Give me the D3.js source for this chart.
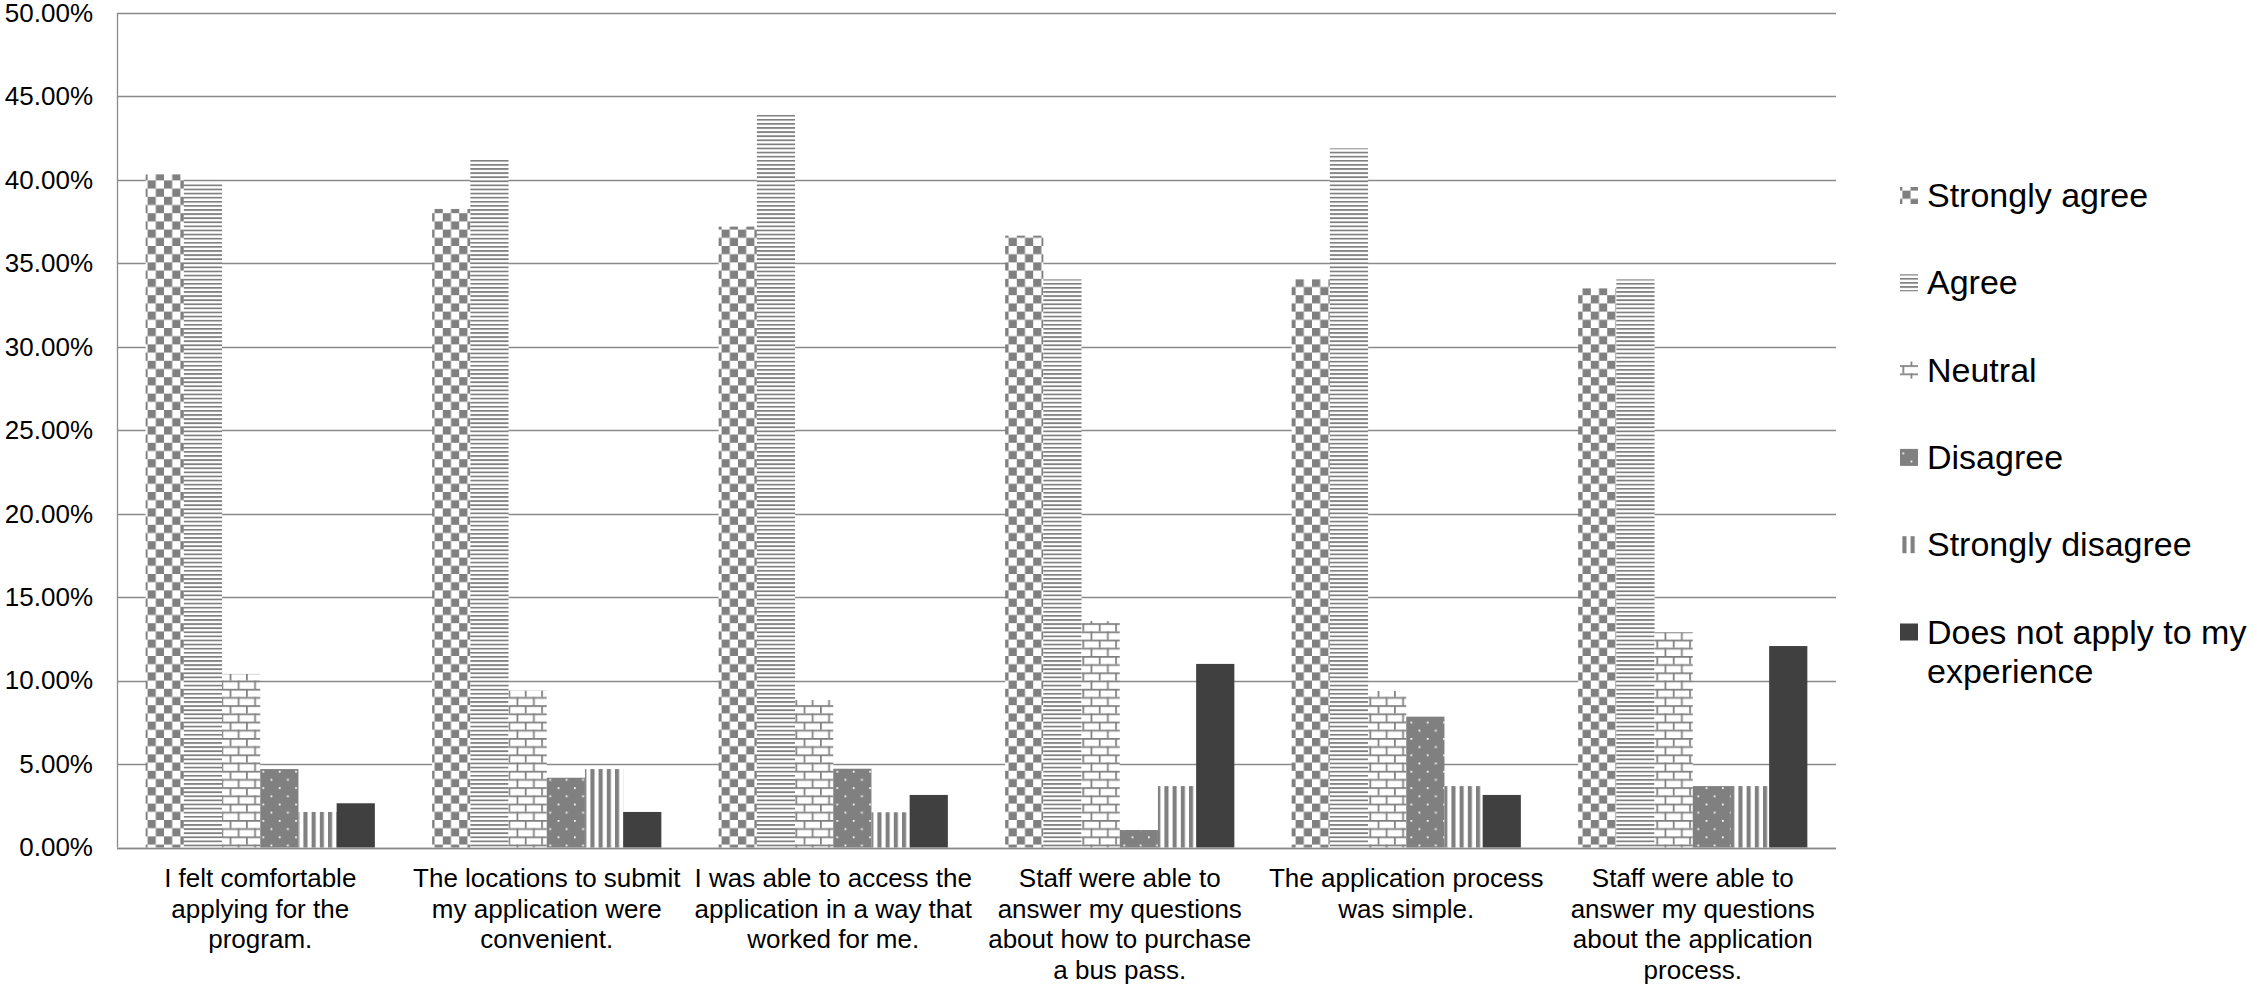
<!DOCTYPE html>
<html>
<head>
<meta charset="utf-8">
<script src="https://cdn.jsdelivr.net/npm/d3@7"></script>
<style>
  html, body { margin: 0; padding: 0; background: #fff; }
  svg { display: block; }
  text { font-family: "Liberation Sans", Arial, sans-serif; fill: #000; }
</style>
</head>
<body>
<svg id="chart" width="2254" height="986"></svg>
<script>
// ---------- data ----------
const categories = ["cat1", "cat2", "cat3", "cat4", "cat5", "cat6"];
const categoryLabelLines = [
  ["I felt comfortable", "applying for the", "program."],
  ["The locations to submit", "my application were", "convenient."],
  ["I was able to access the", "application in a way that", "worked for me."],
  ["Staff were able to", "answer my questions", "about how to purchase", "a bus pass."],
  ["The application process", "was simple."],
  ["Staff were able to", "answer my questions", "about the application", "process."]
];
const seriesNames = ["Strongly agree", "Agree", "Neutral", "Disagree", "Strongly disagree", "Does not apply to my experience"];
const legendLines = [["Strongly agree"], ["Agree"], ["Neutral"], ["Disagree"], ["Strongly disagree"], ["Does not apply to my", "experience"]];
const stronglyAgree    = [40.33, 38.26, 37.20, 36.66, 34.04, 33.50];
const agree            = [39.83, 41.25, 43.89, 34.04, 41.89, 34.04];
const neutral          = [10.40,  9.40,  8.84, 13.57,  9.38, 12.90];
const disagree         = [ 4.70,  4.18,  4.72,  1.05,  7.84,  3.68];
const stronglyDisagree = [ 2.13,  4.70,  2.11,  3.68,  3.68,  3.68];
const doesNotApply     = [ 2.65,  2.13,  3.15, 11.00,  3.15, 12.07];
const yTicks = [0, 5, 10, 15, 20, 25, 30, 35, 40, 45, 50];

const seriesValues = [stronglyAgree, agree, neutral, disagree, stronglyDisagree, doesNotApply];

// ---------- layout ----------
const svg = d3.select("#chart");
const plot = { left: 117, right: 1836, top: 13, bottom: 847.5 };
const gridColor = "#8a8a8a";
const fg = "#808080";

const x = d3.scaleBand().domain(categories).range([plot.left, plot.right]).paddingInner(0).paddingOuter(0);
const xs = d3.scaleBand().domain(seriesNames).range([0, x.bandwidth()]).paddingInner(0).paddingOuter(0.75);
const y = d3.scaleLinear().domain([0, 50]).range([plot.bottom, plot.top]);

// ---------- patterns ----------
const u = 2.05;
const defs = svg.append("defs");
function pat(id, w, h, bg, rects, color) {
  const p = defs.append("pattern").attr("id", id).attr("patternUnits", "userSpaceOnUse")
    .attr("width", w).attr("height", h);
  p.append("rect").attr("width", w).attr("height", h).attr("fill", bg);
  rects.forEach(r => p.append("rect").attr("x", r[0]).attr("y", r[1]).attr("width", r[2]).attr("height", r[3]).attr("fill", color));
}
pat("p0", 8*u, 8*u, "#fff", [[0,0,4*u,4*u],[4*u,4*u,4*u,4*u]], fg);
pat("p1", 8*u, 2*u, "#fff", [[0,0,8*u,u*0.85]], fg);
pat("p2", 8*u, 8*u, "#fff", [[0,0,8*u,u*0.85],[0,4*u,8*u,u*0.85],[0,0,u*0.85,4*u],[4*u,4*u,u*0.85,4*u]], fg);
pat("p3", 8*u, 8*u, fg, [[0,0,u*0.85,u*0.85],[4*u,4*u,u*0.85,u*0.85]], "#fff");
pat("p4", 4*u, 8*u, "#fff", [[0,0,2*u,8*u]], fg);
const fills = ["url(#p0)", "url(#p1)", "url(#p2)", "url(#p3)", "url(#p4)", "#404040"];

// ---------- grid ----------
svg.append("g").selectAll("line").data(yTicks).join("line")
  .attr("x1", plot.left).attr("x2", plot.right)
  .attr("y1", d => Math.round(y(d)) + 0.5).attr("y2", d => Math.round(y(d)) + 0.5)
  .attr("stroke", gridColor).attr("stroke-width", 1.3);

// y axis line
svg.append("line").attr("x1", plot.left + 0.5).attr("x2", plot.left + 0.5)
  .attr("y1", y(50)).attr("y2", y(0)).attr("stroke", gridColor).attr("stroke-width", 1.3);

// y tick labels
svg.append("g").selectAll("text").data(yTicks).join("text")
  .attr("x", 93).attr("y", d => y(d)).attr("dy", "0.34em")
  .attr("text-anchor", "end").attr("font-size", 26)
  .text(d => d3.format(".2f")(d) + "%");

// ---------- bars ----------
const barData = [];
categories.forEach((c, i) => seriesNames.forEach((s, j) => barData.push({ c, s, j, v: seriesValues[j][i] })));
svg.append("g").selectAll("rect").data(barData).join("rect")
  .attr("x", d => x(d.c) + xs(d.s))
  .attr("width", xs.bandwidth())
  .attr("y", d => y(d.v))
  .attr("height", d => y(0) - y(d.v))
  .attr("fill", d => fills[d.j]);

// bottom axis line redrawn on top
svg.append("line").attr("x1", plot.left).attr("x2", plot.right)
  .attr("y1", Math.round(y(0)) + 0.5).attr("y2", Math.round(y(0)) + 0.5)
  .attr("stroke", gridColor).attr("stroke-width", 1.3);

// category labels
const catG = svg.append("g").selectAll("text").data(categories).join("text")
  .attr("text-anchor", "middle").attr("font-size", 26)
  .attr("x", d => x(d) + x.bandwidth() / 2).attr("y", 887);
catG.each(function(d, i) {
  d3.select(this).selectAll("tspan").data(categoryLabelLines[i]).join("tspan")
    .attr("x", x(d) + x.bandwidth() / 2)
    .attr("dy", (t, k) => k === 0 ? 0 : 30.7)
    .text(t => t);
});

// ---------- legend ----------
const legendY = d3.scalePoint().domain(seriesNames).range([207, 207 + 5 * 87.3]);
const lg = svg.append("g").selectAll("g").data(seriesNames).join("g")
  .attr("transform", d => `translate(0, ${legendY(d)})`);
lg.append("rect").attr("x", 1900).attr("y", -20).attr("width", 18).attr("height", 17)
  .attr("fill", (d, i) => fills[i]);
lg.append("text").attr("x", 1927).attr("y", 0).attr("font-size", 34)
  .each(function(d, i) {
    d3.select(this).selectAll("tspan").data(legendLines[i]).join("tspan")
      .attr("x", 1927).attr("dy", (t, k) => k === 0 ? 0 : 39.5).text(t => t);
  });
</script>
</body>
</html>
